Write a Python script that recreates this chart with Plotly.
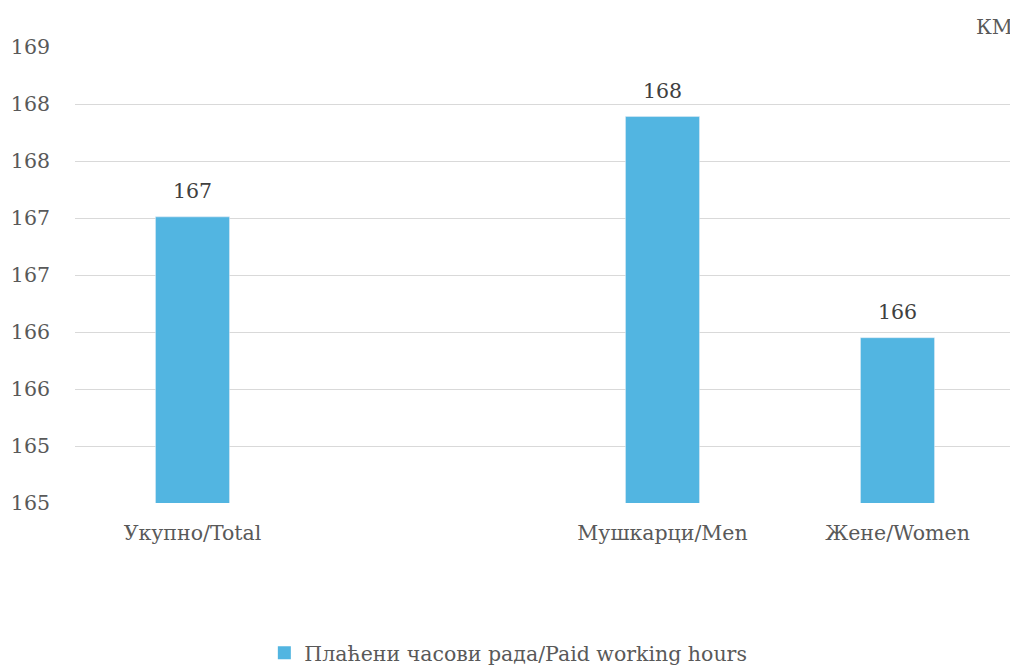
import plotly.graph_objects as go

categories = ["Укупно/Total", " ", "Мушкарци/Men", "Жене/Women"]
values = [167.31, None, 168.19, 166.25]
series_name = "Плаћени часови рада/Paid working hours"
unit_label = "КМ"

font_family = "DejaVu Serif"
text_color = "#595959"
label_color = "#404040"
bar_color = "#52B5E1"
fs = 20.5

fig = go.Figure()
fig.add_trace(go.Bar(
    x=categories,
    y=values,
    name=series_name,
    marker=dict(color=bar_color),
    width=0.315,
    showlegend=False,
    legendgroup="s",
))
# legend entry with a larger square swatch
fig.add_trace(go.Scatter(
    x=[None], y=[None],
    mode="markers",
    name=series_name,
    marker=dict(symbol="square", size=13, color=bar_color),
    legendgroup="s",
    showlegend=True,
))

annotations = []
for c, v in zip(categories, values):
    if v is None:
        continue
    annotations.append(dict(
        x=c, y=v, xref="x", yref="y",
        text=f"{v:.0f}",
        showarrow=False,
        xanchor="center", yanchor="bottom",
        yshift=12,
        font=dict(family=font_family, size=fs, color=label_color),
    ))
annotations.append(dict(
    text=unit_label,
    xref="paper", yref="paper",
    x=1.0, y=1.0,
    xanchor="right", yanchor="middle",
    yshift=20,
    showarrow=False,
    font=dict(family=font_family, size=fs, color=text_color),
))

fig.update_layout(
    width=1010,
    height=658,
    margin=dict(l=67, r=3, t=39, b=163, autoexpand=False),
    paper_bgcolor="white",
    plot_bgcolor="white",
    font=dict(family=font_family, size=fs, color=text_color),
    showlegend=True,
    legend=dict(
        orientation="h",
        x=0.461, xanchor="center",
        y=-0.329, yanchor="middle",
        font=dict(family=font_family, size=fs, color=text_color),
        itemwidth=30,
    ),
    xaxis=dict(
        type="category",
        showgrid=False,
        showline=False,
        ticks="",
        ticklabelstandoff=15,
        tickfont=dict(family=font_family, size=fs, color=text_color),
    ),
    yaxis=dict(
        range=[164.8, 168.8],
        tick0=164.8,
        dtick=0.5,
        tickformat=".0f",
        showgrid=True,
        gridcolor="#D9D9D9",
        gridwidth=1,
        zeroline=False,
        showline=False,
        ticks="",
        ticklabelstandoff=24,
        tickfont=dict(family=font_family, size=fs, color=text_color),
    ),
    annotations=annotations,
)

fig.write_html("out.html")
